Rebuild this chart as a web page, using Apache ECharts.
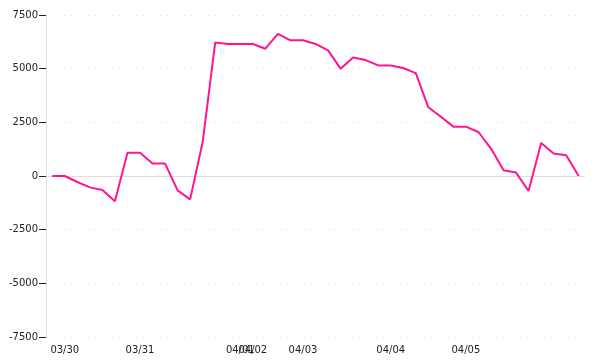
<!DOCTYPE html>
<html>
<head>
<meta charset="utf-8">
<script src="https://cdn.jsdelivr.net/npm/echarts@6/dist/echarts.min.js"></script>
<style>html,body{margin:0;padding:0;background:#fff}#c{width:600px;height:360px}</style>
</head>
<body>
<div id="c"></div>
<script>
const categories = [
  "03/29",
  "03/30","03/30","03/30","03/30","03/30","03/30",
  "03/31","03/31","03/31","03/31","03/31","03/31","03/31","03/31",
  "04/01",
  "04/02","04/02","04/02","04/02",
  "04/03","04/03","04/03","04/03","04/03","04/03","04/03",
  "04/04","04/04","04/04","04/04","04/04","04/04",
  "04/05","04/05","04/05","04/05","04/05","04/05","04/05","04/05","04/05","04/05"
];
const values = [
  0, 0, -280, -530, -650, -1180, 1080, 1080, 580, 580,
  -670, -1090, 1580, 6220, 6150, 6150, 6150, 5930, 6620, 6320,
  6320, 6150, 5850, 5000, 5520, 5400, 5150, 5150, 5030, 4790,
  3200, 2760, 2300, 2300, 2050, 1280, 270, 160, -700, 1540,
  1050, 970, 0
];
const yTicks = [-7500, -5000, -2500, 0, 2500, 5000, 7500];

const chart = echarts.init(document.getElementById('c'));
const font = 'DejaVu Sans';
chart.setOption({
  animation: false,
  grid: { left: 46, right: 15, top: 15, bottom: 23 },
  xAxis: {
    type: 'category',
    data: categories,
    boundaryGap: true,
    axisLine: { show: false },
    axisTick: { show: false },
    splitLine: { show: false },
    axisLabel: {
      color: '#222', fontFamily: font, fontSize: 10, margin: 8,
      interval: (i) => i > 0 && categories[i] !== categories[i - 1]
    }
  },
  yAxis: {
    type: 'value',
    min: yTicks[0], max: yTicks[yTicks.length - 1], interval: 2500,
    axisLine: { show: true, lineStyle: { color: '#ddd', width: 1 } },
    axisTick: { show: true, length: 7, lineStyle: { color: '#222' } },
    axisLabel: { color: '#222', fontFamily: font, fontSize: 10, margin: 8, formatter: (v) => String(v) },
    splitLine: { show: true, lineStyle: { color: '#eee', type: [2, 4] } }
  },
  series: [
    {
      type: 'line',
      data: [],
      z: 1,
      silent: true,
      markLine: {
        silent: true, symbol: 'none', label: { show: false },
        lineStyle: { color: '#ddd', type: 'solid', width: 1 },
        data: [{ yAxis: 0 }]
      }
    },
    {
      type: 'line',
      data: values,
      z: 5,
      showSymbol: false,
      lineStyle: { color: '#ff1493', width: 2 },
      itemStyle: { color: '#ff1493' }
    }
  ]
});
</script>
</body>
</html>
